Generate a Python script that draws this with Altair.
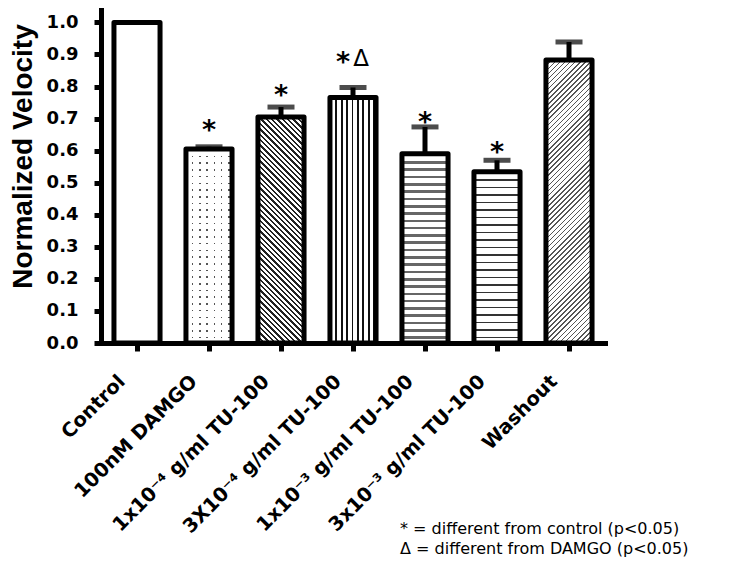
import math
import altair as alt
import pandas as pd

# ---- data ----
categories = ["Control", "100nM DAMGO", "1x10\u207b\u2074 g/ml TU-100", "3X10\u207b\u2074 g/ml TU-100",
              "1x10\u207b\u00b3 g/ml TU-100", "3x10\u207b\u00b3 g/ml TU-100", "Washout"]
means = [1.0, 0.605, 0.705, 0.766, 0.59, 0.534, 0.883]
sems = [0.0, 0.007, 0.031, 0.031, 0.084, 0.036, 0.056]
sig_control = [False, True, True, True, True, True, False]
sig_damgo = [False, False, False, True, False, False, False]
sig_y = [None, 0.683, 0.792, 0.895, 0.708, 0.614, None]
y_ticks = [0.0, 0.1, 0.2, 0.3, 0.4, 0.5, 0.6, 0.7, 0.8, 0.9, 1.0]
notes = ["* = different from control (p<0.05)", "\u0394 = different from DAMGO (p<0.05)"]

df = pd.DataFrame({
    "cat": categories,
    "mean": means,
    "sem": sems,
    "upper": [m + s for m, s in zip(means, sems)],
    "sigc": sig_control,
    "sigd": sig_damgo,
    "sy": sig_y,
})

# ---- layout ----
W, H = 504, 335
YMAX = 1.045
PAD_IN, PAD_OUT = 0.36, 0.18
STEP = W / (len(categories) - PAD_IN + 2 * PAD_OUT)
BAR_W = STEP * (1 - PAD_IN)
PX_PER_UNIT = H / YMAX

FONT_SANS = "DejaVu Sans"
FONT_ARIAL = "Liberation Sans"


def stripes(w, h, direction, period, dark, c_dark, c_light):
    dx, dy = direction
    n = math.hypot(dx, dy)
    dx, dy = dx / n, dy / n
    corners = [(0, 0), (w, 0), (0, h), (w, h)]
    qs = [x * dx + y * dy for x, y in corners]
    i0 = qs.index(min(qs))
    L = max(qs) - min(qs)
    sx, sy = corners[i0][0] / w, corners[i0][1] / h
    c = L / (dx * dx * w * w + dy * dy * h * h)
    ex, ey = sx + c * dx * w, sy + c * dy * h
    stops = []
    k = 0
    while k * period < L:
        a = k * period / L
        b = min((k * period + dark) / L, 1.0)
        e = min((k + 1) * period / L, 1.0)
        stops += [(a, c_dark), (b, c_dark), (b, c_light), (e, c_light)]
        k += 1
    return alt.LinearGradient(
        gradient="linear", x1=sx, y1=sy, x2=ex, y2=ey,
        stops=[alt.GradientStop(offset=round(o, 5), color=col) for o, col in stops],
    )


CLEAR = "rgba(255,255,255,0)"


def fills_for(i):
    h = means[i] * PX_PER_UNIT
    w = BAR_W
    if i == 0:
        return ["#ffffff"]
    if i == 1:  # dots
        return [stripes(w, h, (0, 1), 6.7, 1.6, "#555555", "#ffffff"),
                stripes(w, h, (1, 0), 7.3, 5.7, "#ffffff", CLEAR)]
    if i == 2:  # back-diagonal hatch
        return [stripes(w, h, (1, -1), 3.8, 1.7, "#222222", "#ffffff")]
    if i == 3:  # vertical lines
        return [stripes(w, h, (1, 0), 5.4, 1.8, "#111111", "#ffffff")]
    if i == 4:  # wavy (approx.)
        return [stripes(w, h, (0, 1), 7.3, 2.6, "#666666", "#ffffff")]
    if i == 5:  # horizontal lines
        return [stripes(w, h, (0, 1), 7.5, 1.6, "#333333", "#ffffff")]
    return [stripes(w, h, (1, 1), 3.6, 1.1, "#555555", "#ffffff")]  # forward hatch


x_enc = alt.X(
    "cat:N", sort=categories, title=None,
    scale=alt.Scale(paddingInner=PAD_IN, paddingOuter=PAD_OUT),
    axis=alt.Axis(
        labelAngle=-45, labelAlign="right", labelBaseline="middle",
        labelOffset=-15, labelPadding=27, labelFont=FONT_SANS, labelFontSize=19.5,
        labelFontWeight="bold", labelColor="black", labelLimit=400,
        tickSize=8, tickWidth=5, tickColor="black",
        domainWidth=5, domainColor="black", domainCap="square", grid=False,
    ),
)


def y_enc(field):
    return alt.Y(
        f"{field}:Q", title="Normalized Velocity",
        scale=alt.Scale(domain=[0, YMAX], nice=False, zero=True),
        axis=alt.Axis(
            values=y_ticks, format=".1f", labelFont=FONT_SANS, labelFontSize=18,
            labelFontWeight="bold", labelColor="black", labelPadding=16,
            tickSize=7, tickWidth=5, tickColor="black",
            domainWidth=5, domainColor="black", domainCap="square", grid=False,
            titleFont=FONT_ARIAL, titleFontSize=28, titleFontWeight="bold",
            titleColor="black", titleAngle=270, titleBaseline="alphabetic",
            titleAlign="center", titleX=-70, titleY=148,
        ),
    )


base = alt.Chart(df)
layers = []
for i, name in enumerate(categories):
    for f in fills_for(i):
        layers.append(
            base.transform_filter(alt.datum.cat == name)
            .mark_bar(fill=f, strokeWidth=0)
            .encode(x=x_enc, y=y_enc("mean"))
        )

outline = base.mark_bar(fillOpacity=0, stroke="black", strokeWidth=5, strokeJoin="round").encode(
    x=x_enc, y=y_enc("mean"))
err = base.transform_filter(alt.datum.sem > 0).mark_rule(color="black", strokeWidth=5).encode(
    x=x_enc, y=y_enc("mean"), y2="upper:Q")
cap = base.transform_filter(alt.datum.sem > 0).mark_tick(color="black", size=27, thickness=5).encode(
    x=x_enc, y=y_enc("upper"))

star = base.transform_filter("datum.sigc && !datum.sigd").mark_text(
    text="*", font=FONT_SANS, fontSize=27, fontWeight="bold", color="black",
    baseline="middle", dy=7).encode(x=x_enc, y=y_enc("sy"))
star2 = base.transform_filter("datum.sigc && datum.sigd").mark_text(
    text="*", font=FONT_SANS, fontSize=27, fontWeight="bold", color="black",
    baseline="middle", dy=7, dx=-10).encode(x=x_enc, y=y_enc("sy"))
delta = base.transform_filter("datum.sigd").mark_text(
    text="\u0394", font=FONT_SANS, fontSize=23, color="black",
    baseline="middle", dy=3, dx=8).encode(x=x_enc, y=y_enc("sy"))

note_layers = []
for j, t in enumerate(notes):
    note_layers.append(
        alt.Chart(pd.DataFrame({"t": [t]})).mark_text(
            font=FONT_SANS, fontSize=16, color="black", align="left", baseline="alphabetic"
        ).encode(text="t:N", x=alt.value(299), y=alt.value(526 + 20 * j))
    )

chart = alt.layer(*layers, outline, err, cap, star, star2, delta, *note_layers).properties(
    width=W, height=H,
    autosize=alt.AutoSizeParams(type="none"),
    padding={"left": 93, "top": 0, "right": 125, "bottom": 214},
).configure(background="white", view=alt.ViewConfig(strokeWidth=0))

chart.save("out.html", embed_options={"renderer": "svg", "actions": False})
